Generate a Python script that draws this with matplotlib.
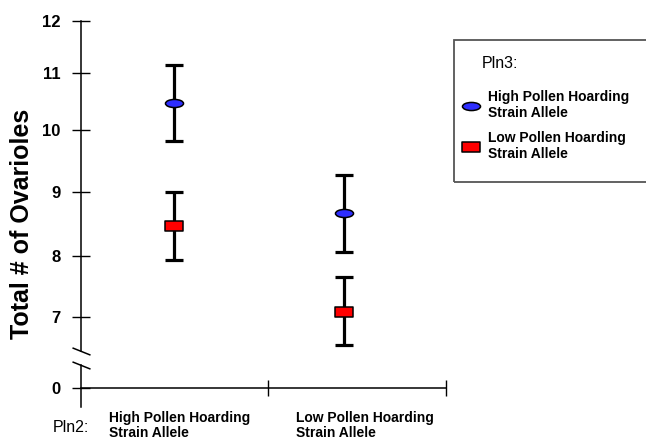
#!/usr/bin/env python3
# Ovariole number by Pln2 / Pln3 genotype, mean with error bars

import numpy as np
import matplotlib
matplotlib.use('Agg')
from matplotlib import pyplot as plt
from matplotlib.path import Path
from matplotlib.lines import Line2D
from matplotlib.patches import Rectangle
from matplotlib.transforms import Affine2D

#
#   Data
#
categories = ['High Pollen Hoarding\nStrain Allele',
              'Low Pollen Hoarding\nStrain Allele']
high_mean = [10.47, 8.67]
high_upper = [11.16, 9.27]
high_lower = [9.82, 8.07]
low_mean = [8.47, 7.08]
low_upper = [9.00, 7.66]
low_lower = [7.93, 6.55]
series_labels = ['High Pollen Hoarding\nStrain Allele',
                 'Low Pollen Hoarding\nStrain Allele']
y_ticks = [0, 7, 8, 9, 10, 11, 12]

plt.rcParams['font.family'] = ['Liberation Sans', 'DejaVu Sans']

W, H = 646, 440


def fx(px):
    return px / W


def fy(py):
    return 1 - py / H


# broken y axis: 0 sits just under the break, 7..12 spread out
# (node positions follow the uneven tick spacing of the original)
scale_vals = np.array([-2, 0, 6.45, 7, 8, 9, 10, 11, 12, 14])
scale_pix = np.array([407, 388, 351, 316.7, 256, 192, 130, 73.3, 21.3, -82.7])
scale_pos = 407 - scale_pix


def forward(y):
    return np.interp(y, scale_vals, scale_pos)


def inverse(p):
    return np.interp(p, scale_pos, scale_vals)


fig = plt.figure(figsize=(W / 100, H / 100), dpi=100)
ax = fig.add_axes([fx(81), fy(407), fx(446) - fx(81), fy(21.3) - fy(407)])
ax.set_yscale('function', functions=(forward, inverse))

x = np.arange(len(categories))

ellipse = Path.unit_circle().transformed(Affine2D().scale(1, 0.45))
box = Path([(-1, -0.55), (1, -0.55), (1, 0.55), (-1, 0.55), (-1, -0.55)],
           [Path.MOVETO, Path.LINETO, Path.LINETO, Path.LINETO, Path.CLOSEPOLY])

blue = '#2e2eff'
red = '#ff0000'

for mean, upper, lower, marker, colour in [
        (high_mean, high_upper, high_lower, ellipse, blue),
        (low_mean, low_upper, low_lower, box, red)]:
    mean = np.array(mean)
    err = [mean - np.array(lower), np.array(upper) - mean]
    ax.errorbar(x, mean, yerr=err, fmt='none', ecolor='black',
                elinewidth=2.3, capsize=6.2, capthick=2.3, zorder=2)
    ax.plot(x, mean, linestyle='none', marker=marker, ms=13,
            mfc=colour, mec='black', mew=1.1, zorder=3)

ax.set_xlim(-0.547, 1.6)
ax.set_ylim(-2, 12)

# axes styling
for side in ['top', 'right', 'left']:
    ax.spines[side].set_visible(False)
ax.spines['bottom'].set_position(('data', 0))
ax.spines['bottom'].set_linewidth(1.1)

ax.set_yticks(y_ticks)
ax.set_yticklabels([str(t) for t in y_ticks], fontsize=12,
                   fontweight='bold')
ax.tick_params(axis='y', direction='inout', length=13, width=1.0, pad=8)
ax.set_xticks([0.553, 1.6])
ax.set_xticklabels([])
ax.tick_params(axis='x', direction='inout', length=11.5, width=1.0)

# y axis drawn in two pieces with the break marks between
yax = ax.get_yaxis_transform()
ax.plot([0, 0], [6.45, 12], color='black', lw=1.1, transform=yax,
        clip_on=False)
ax.plot([0, 0], [-2, 4.0], color='black', lw=1.1, transform=yax,
        clip_on=False)
slash = Path([(-1, 0.4), (1, -0.4)], [Path.MOVETO, Path.LINETO])
ax.plot([0, 0], [6.45, 4.0], linestyle='none', marker=slash, ms=13,
        mec='black', mew=1.1, transform=yax, clip_on=False)

fig.text(fx(22), fy(224), 'Total # of Ovarioles', rotation=90,
         ha='center', va='center', fontsize=18, fontweight='bold')

# category labels under the x axis
fig.text(fx(71), fy(427), 'Pln2:', ha='center', va='center', fontsize=11.5)
for xpos, label in zip([109, 296], categories):
    fig.text(fx(xpos), fy(411), label, ha='left', va='top', fontsize=10,
             fontweight='bold', linespacing=1.1)

# legend box runs off the right edge
fig.patches.append(Rectangle((fx(454), fy(182)), fx(700) - fx(454),
                             fy(40) - fy(182), transform=fig.transFigure,
                             fill=False, edgecolor='#555555', lw=1.3))
fig.text(fx(482), fy(63), 'Pln3:', ha='left', va='center', fontsize=11.5)
handles = [Line2D([], [], linestyle='none', marker=ellipse, ms=13, mfc=blue,
                  mec='black', mew=1.1),
           Line2D([], [], linestyle='none', marker=box, ms=13, mfc=red,
                  mec='black', mew=1.1)]
fig.legend(handles, series_labels, loc='upper left',
           bbox_to_anchor=(fx(461), fy(90)), frameon=False, borderpad=0,
           borderaxespad=0, handlelength=1.5, handletextpad=0.45,
           labelspacing=0.78,
           prop={'size': 10, 'weight': 'bold'})

fig.savefig('out.png', dpi=100)
